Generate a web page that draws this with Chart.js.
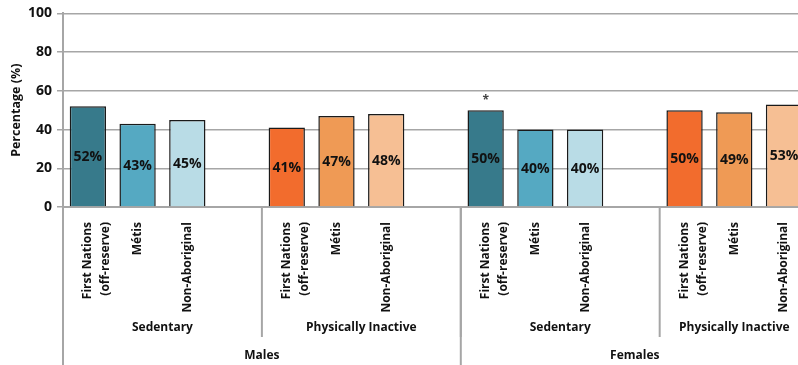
<!DOCTYPE html>
<html lang="en">
<head>
    <meta charset="UTF-8">
    <title>Sedentary and Physically Inactive</title>
    <script src="https://cdn.jsdelivr.net/npm/chart.js"></script>
    <style>
        html, body {
            margin: 0;
            padding: 0;
            background: #ffffff;
            overflow: hidden;
        }

        .chart-container {
            position: relative;
            width: 809px;
            height: 365px;
        }
    </style>
</head>
<body>
    <div class="chart-container">
        <canvas id="activity-chart"></canvas>
    </div>

    <script>
        const ethnicGroups = [['First Nations', '(off-reserve)'], 'Métis', 'Non-Aboriginal'];
        const activityLevels = ['Sedentary', 'Physically Inactive'];
        const sexes = ['Males', 'Females'];

        const malesSedentary = [52, 43, 45];
        const malesInactive = [41, 47, 48];
        const femalesSedentary = [50, 40, 40];
        const femalesInactive = [50, 49, 53];
        const femalesSedentaryNotes = ['*', '', ''];

        const tealShades = ['#377a8b', '#55a9c2', '#b9dce6'];
        const orangeShades = ['#f26c2d', '#ef9a55', '#f6bf94'];

        const FONT = '"Open Sans", "Noto Sans", sans-serif';

        // Flatten into one slot per bar, with an empty slot between activity groups
        const seriesBySex = [[malesSedentary, malesInactive], [femalesSedentary, femalesInactive]];
        const notesBySex = [[[], []], [femalesSedentaryNotes, []]];

        const labels = [];
        const values = [];
        const colors = [];
        const notes = [];
        const levelSpans = [];
        const sexSpans = [];
        seriesBySex.forEach((pair, s) => {
            const sexStart = labels.length;
            pair.forEach((series, a) => {
                const start = labels.length;
                const shades = a === 0 ? tealShades : orangeShades;
                series.forEach((v, i) => {
                    labels.push(ethnicGroups[i]);
                    values.push(v);
                    colors.push(shades[i]);
                    notes.push(notesBySex[s][a][i] || '');
                });
                const isLast = s === seriesBySex.length - 1 && a === pair.length - 1;
                if (!isLast) {
                    labels.push('');
                    values.push(null);
                    colors.push('rgba(0,0,0,0)');
                    notes.push('');
                }
                levelSpans.push({ text: activityLevels[a], start: start, end: labels.length });
            });
            sexSpans.push({ text: sexes[s], start: sexStart, end: labels.length });
        });

        // Value labels, asterisk, and the two lower rows of grouped axis labels
        const groupedAxis = {
            id: 'groupedAxis',
            afterDraw(chart) {
                const { ctx, chartArea, scales: { x } } = chart;
                const slot = x.width / labels.length;
                const left = chartArea.left;
                const bottom = chartArea.bottom;
                const edge = i => left + i * slot;

                ctx.save();
                ctx.fillStyle = '#111111';
                ctx.textAlign = 'center';
                ctx.textBaseline = 'middle';

                chart.getDatasetMeta(0).data.forEach((bar, i) => {
                    if (values[i] == null) return;
                    ctx.font = 'bold 14px ' + FONT;
                    ctx.fillText(values[i] + '%', bar.x, (bar.y + bar.base) / 2 + 1);
                    if (notes[i]) {
                        ctx.font = 'bold 12px ' + FONT;
                        ctx.fillStyle = '#444444';
                        ctx.fillText(notes[i], bar.x, bar.y - 10);
                        ctx.fillStyle = '#111111';
                    }
                });

                ctx.strokeStyle = '#a6a6a6';
                ctx.lineWidth = 2;
                const vline = (px, y2) => {
                    ctx.beginPath();
                    ctx.moveTo(px, bottom);
                    ctx.lineTo(px, y2);
                    ctx.stroke();
                };
                vline(left, chart.height);

                ctx.font = 'bold 12px ' + FONT;
                levelSpans.forEach(g => {
                    if (g.start > 0) vline(edge(g.start), bottom + 130);
                    ctx.fillText(g.text, (edge(g.start) + edge(g.end)) / 2, bottom + 121);
                });
                sexSpans.forEach(g => {
                    if (g.start > 0) vline(edge(g.start), chart.height);
                    ctx.fillText(g.text, (edge(g.start) + edge(g.end)) / 2, bottom + 149);
                });
                ctx.restore();
            }
        };

        const ctxActivity = document.getElementById('activity-chart').getContext('2d');
        const activityChart = new Chart(ctxActivity, {
            type: 'bar',
            data: {
                labels: labels,
                datasets: [{
                    data: values,
                    backgroundColor: colors,
                    borderColor: '#1a1a1a',
                    borderWidth: 1.5,
                    categoryPercentage: 1,
                    barPercentage: 0.73
                }]
            },
            options: {
                responsive: true,
                maintainAspectRatio: false,
                animation: false,
                layout: {
                    padding: { top: 11, right: 0, bottom: 0, left: 0 }
                },
                plugins: {
                    legend: { display: false },
                    tooltip: { enabled: false }
                },
                scales: {
                    x: {
                        grid: { display: false },
                        border: { color: '#a6a6a6', width: 2 },
                        ticks: {
                            color: '#111111',
                            font: { family: FONT, size: 12, weight: 'bold', lineHeight: 1.5 },
                            minRotation: 90,
                            maxRotation: 90,
                            autoSkip: false,
                            padding: 7
                        },
                        afterFit(scale) {
                            scale.height = 158;
                        }
                    },
                    y: {
                        min: 0,
                        max: 100,
                        ticks: {
                            stepSize: 20,
                            color: '#111111',
                            font: { family: FONT, size: 14, weight: 'bold' },
                            padding: 5
                        },
                        grid: {
                            color: '#a6a6a6',
                            lineWidth: 1.5,
                            tickLength: 6
                        },
                        border: { color: '#a6a6a6', width: 2 },
                        title: {
                            display: true,
                            text: 'Percentage (%)',
                            color: '#111111',
                            font: { family: FONT, size: 12.5, weight: 'bold' },
                            padding: { top: 9, bottom: 4 }
                        },
                        afterFit(scale) {
                            scale.width = 63;
                        }
                    }
                }
            },
            plugins: [groupedAxis]
        });
    </script>
</body>
</html>
